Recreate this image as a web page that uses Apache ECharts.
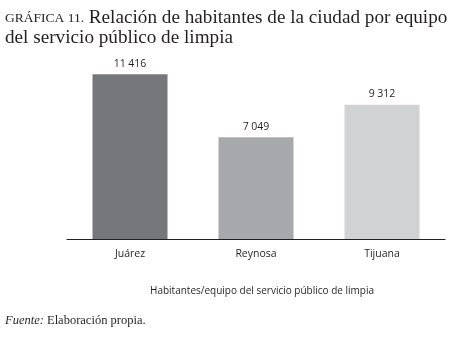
<!DOCTYPE html>
<html>
<head>
<meta charset="utf-8">
<style>
  html, body { margin: 0; padding: 0; background: #fff; }
  #chart { width: 453px; height: 342px; }
</style>
<script src="https://cdn.jsdelivr.net/npm/echarts@6/dist/echarts.min.js"></script>
</head>
<body>
<div id="chart"></div>
<script>
var cities = ['Juárez', 'Reynosa', 'Tijuana'];
var habitantes = [11416, 7049, 9312];
var barColors = ['#76777b', '#a7a8ab', '#d1d2d4'];

var sans = 'Open Sans, Liberation Sans, sans-serif';
var serif = 'Liberation Serif, DejaVu Serif, serif';

function fmt(v) {
    return String(v).replace(/\B(?=(\d{3})+(?!\d))/g, ' ');
}

var chart = echarts.init(document.getElementById('chart'));
chart.setOption({
    animation: false,
    title: [
        {
            text: '{sc|GRÁFICA 11.}{t| Relación de habitantes de la ciudad por equipo}\n{t|del servicio público de limpia}',
            left: 5,
            top: 8,
            padding: 0,
            textStyle: {
                fontWeight: 'normal',
                rich: {
                    sc: { fontFamily: serif, fontWeight: 'normal', fontSize: 13.5, color: '#231f20', lineHeight: 20 },
                    t: { fontFamily: serif, fontWeight: 'normal', fontSize: 19.2, color: '#231f20', lineHeight: 20 }
                }
            }
        },
        {
            text: '{i|Fuente:}{t| Elaboración propia.}',
            left: 5,
            top: 314,
            padding: 0,
            textStyle: {
                fontWeight: 'normal',
                rich: {
                    i: { fontFamily: serif, fontStyle: 'italic', fontWeight: 'normal', fontSize: 12.5, color: '#231f20' },
                    t: { fontFamily: serif, fontWeight: 'normal', fontSize: 12.5, color: '#231f20' }
                }
            }
        }
    ],
    grid: { left: 67, right: 8, top: 37, height: 202 },
    xAxis: {
        type: 'category',
        data: cities,
        axisLine: { lineStyle: { color: '#231f20', width: 1.2 } },
        axisTick: { show: false },
        axisLabel: { color: '#231f20', fontFamily: sans, fontSize: 10.5, margin: 10 },
        name: 'Habitantes/equipo del servicio público de limpia',
        nameLocation: 'middle',
        nameGap: 47,
        nameTextStyle: { color: '#231f20', fontFamily: sans, fontSize: 10, padding: [0, 0, 0, 12] }
    },
    yAxis: {
        type: 'value',
        min: 0,
        max: 14000,
        show: false
    },
    series: [{
        type: 'bar',
        barWidth: 75,
        z: 1,
        data: habitantes.map(function (v, i) {
            return { value: v, itemStyle: { color: barColors[i] } };
        }),
        label: {
            show: true,
            position: 'top',
            distance: 5,
            color: '#231f20',
            fontFamily: sans,
            fontSize: 10.5,
            formatter: function (p) { return fmt(p.value); }
        }
    }]
});
</script>
</body>
</html>
